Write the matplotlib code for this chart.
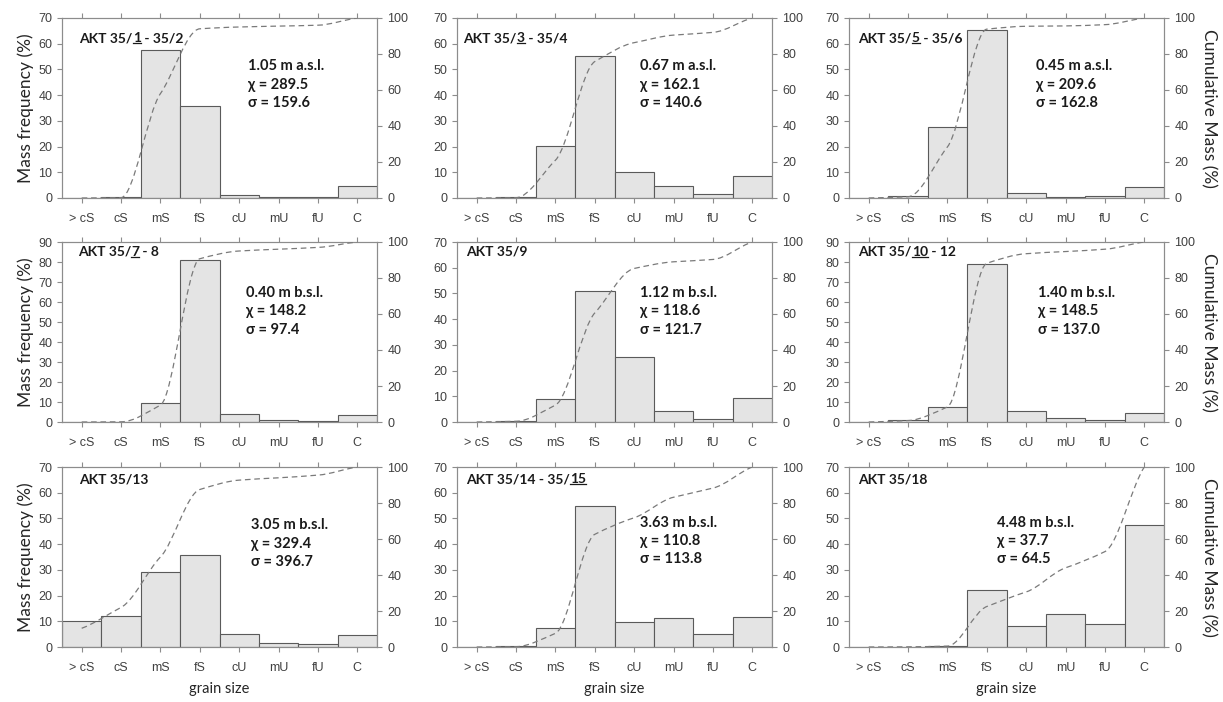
import numpy as np
import matplotlib
matplotlib.use("Agg")
from matplotlib import pyplot as plt
from matplotlib.path import Path
from matplotlib.patches import PathPatch
from matplotlib.lines import Line2D
from matplotlib.ticker import MultipleLocator

# grain size classes
categories = ['> cS', 'cS', 'mS', 'fS', 'cU', 'mU', 'fU', 'C']

# panel titles: (plain, underlined, plain)
titles = [
    ('AKT 35/', '1', ' - 35/2'),
    ('AKT 35/', '3', ' - 35/4'),
    ('AKT 35/', '5', ' - 35/6'),
    ('AKT 35/', '7', ' - 8'),
    ('AKT 35/9', '', ''),
    ('AKT 35/', '10', ' - 12'),
    ('AKT 35/13', '', ''),
    ('AKT 35/14 - 35/', '15', ''),
    ('AKT 35/18', '', ''),
]

depths = ['1.05 m a.s.l.', '0.67 m a.s.l.', '0.45 m a.s.l.',
          '0.40 m b.s.l.', '1.12 m b.s.l.', '1.40 m b.s.l.',
          '3.05 m b.s.l.', '3.63 m b.s.l.', '4.48 m b.s.l.']
chi = ['289.5', '162.1', '209.6', '148.2', '118.6', '148.5', '329.4', '110.8', '37.7']
sigma = ['159.6', '140.6', '162.8', '97.4', '121.7', '137.0', '396.7', '113.8', '64.5']

# mass frequency (%) per class
freq_1 = [0, 0.2, 57.7, 35.6, 1.3, 0.3, 0.5, 4.7]
freq_2 = [0, 0.2, 20.2, 55.3, 10.2, 4.7, 1.5, 8.5]
freq_3 = [0, 0.7, 27.7, 65.2, 1.8, 0.2, 0.6, 4.3]
freq_4 = [0, 0.1, 9.3, 81.2, 4.1, 1.2, 0.7, 3.6]
freq_5 = [0, 0.4, 8.9, 51.0, 25.1, 4.2, 1.1, 9.4]
freq_6 = [0, 0.8, 7.6, 79.2, 5.6, 1.9, 0.8, 4.3]
freq_7 = [10.2, 12.1, 29.2, 35.6, 5.1, 1.7, 1.3, 4.7]
freq_8 = [0, 0.2, 7.5, 54.8, 9.7, 11.3, 5.2, 11.5]
freq_9 = [0, 0.1, 0.4, 22.0, 8.3, 13.0, 8.8, 47.4]

# cumulative mass (%)
cum_1 = [0, 0.2, 58.0, 94.0, 95.0, 95.5, 96.0, 100]
cum_2 = [0, 0.2, 21.0, 75.8, 86.3, 90.5, 92.0, 100]
cum_3 = [0, 0.7, 28.4, 93.8, 95.4, 95.6, 96.3, 100]
cum_4 = [0, 0.1, 9.4, 90.7, 95.0, 96.0, 97.0, 100]
cum_5 = [0, 0.4, 9.4, 60.6, 85.3, 89.0, 90.3, 100]
cum_6 = [0, 0.8, 8.4, 88.2, 93.5, 94.7, 96.0, 100]
cum_7 = [10.4, 22.0, 50.0, 87.5, 92.7, 94.0, 95.5, 100]
cum_8 = [0, 0.2, 7.6, 62.6, 71.8, 83.2, 88.3, 100]
cum_9 = [0, 0.1, 0.5, 22.5, 30.6, 44.0, 53.0, 100]

freqs = [freq_1, freq_2, freq_3, freq_4, freq_5, freq_6, freq_7, freq_8, freq_9]
cums = [cum_1, cum_2, cum_3, cum_4, cum_5, cum_6, cum_7, cum_8, cum_9]
ymax = [70, 70, 70, 90, 70, 90, 70, 70, 70]

# placement of texts inside the panels (axes fraction)
title_xy = [(0.055, 0.92), (0.02, 0.92), (0.03, 0.92),
            (0.05, 0.98), (0.03, 0.98), (0.03, 0.98),
            (0.055, 0.965), (0.03, 0.965), (0.03, 0.965)]
stats_xy = [(0.59, 0.77), (0.58, 0.77), (0.595, 0.77),
            (0.585, 0.755), (0.58, 0.755), (0.6, 0.755),
            (0.6, 0.715), (0.58, 0.73), (0.47, 0.73)]

W, H = 1223, 702
col_left = [62, 457, 849]
row_top = [18, 242, 467]
ax_w, ax_h = 315, 180

tick_font = 'Liberation Sans'
text_font = ['Lato', 'DejaVu Sans']
axis_col = '#8c8c8c'
label_col = '#404040'


def smooth_path(x, y, tension=0.7):
    """Monotone cubic Bezier path through the points (no overshoot)."""
    x = np.asarray(x, float)
    y = np.asarray(y, float)
    n = len(x)
    h = np.diff(x)
    d = np.diff(y) / h
    m = np.zeros(n)
    m[0], m[-1] = d[0], d[-1]
    for i in range(1, n - 1):
        if d[i - 1] * d[i] <= 0:
            m[i] = 0.0
        else:
            w1 = 2 * h[i] + h[i - 1]
            w2 = h[i] + 2 * h[i - 1]
            m[i] = (w1 + w2) / (w1 / d[i - 1] + w2 / d[i])
    m = m * tension
    verts = [(x[0], y[0])]
    codes = [Path.MOVETO]
    for i in range(n - 1):
        verts += [(x[i] + h[i] / 3, y[i] + m[i] * h[i] / 3),
                  (x[i + 1] - h[i] / 3, y[i + 1] - m[i + 1] * h[i] / 3),
                  (x[i + 1], y[i + 1])]
        codes += [Path.CURVE4] * 3
    return Path(verts, codes)


fig = plt.figure(figsize=(W / 100, H / 100), dpi=100)
xpos = np.arange(len(categories))
underlines = []

for k in range(9):
    r, c = divmod(k, 3)
    rect = [col_left[c] / W, 1 - (row_top[r] + ax_h) / H, ax_w / W, ax_h / H]
    ax = fig.add_axes(rect)
    ax2 = ax.twinx()

    ax.bar(xpos, freqs[k], width=1.0, color='#e4e4e4', edgecolor='#5a5a5a',
           linewidth=0.8, zorder=2)
    ax.set_xlim(-0.5, len(categories) - 0.5)
    ax.set_ylim(0, ymax[k])
    ax.yaxis.set_major_locator(MultipleLocator(10))
    ax.yaxis.set_minor_locator(MultipleLocator(20))
    ax.grid(True, which='minor', axis='y', color='#efefef', linewidth=0.8, zorder=0)
    ax.set_axisbelow(True)
    ax.set_xticks(xpos)
    ax.set_xticklabels(categories)

    ax2.set_ylim(0, 100)
    ax2.set_yticks(np.arange(0, 101, 20))
    patch = PathPatch(smooth_path(xpos, cums[k]), fill=False, edgecolor='#7a7a7a',
                      linewidth=0.9, linestyle=(0, (4.5, 3)), zorder=3)
    ax2.add_patch(patch)

    for a in (ax, ax2):
        for s in a.spines.values():
            s.set_color(axis_col)
            s.set_linewidth(0.8)
        a.tick_params(colors=axis_col, labelcolor=label_col, labelsize=9,
                      length=3.5, width=0.8)
        for lab in a.get_yticklabels() + a.get_xticklabels():
            lab.set_fontfamily(tick_font)
    ax.tick_params(axis='x', which='major', top=True, direction='out', pad=7)
    ax.tick_params(axis='y', which='minor', length=0)
    ax2.tick_params(axis='y', pad=4)

    if c == 0:
        ax.set_ylabel('Mass frequency (%)', family=text_font, fontsize=12.5,
                      color='#262626', labelpad=3)
    if c == 2:
        ax2.set_ylabel('Cumulative Mass (%)', family=text_font, fontsize=12.5,
                       color='#262626', rotation=270, labelpad=15)
    if r == 2:
        ax.set_xlabel('grain size', family=text_font, fontsize=10.5,
                      color='#262626', labelpad=6)

    # title in up to three pieces, the middle one underlined
    pre, mid, post = titles[k]
    tx, ty = title_xy[k]
    tkw = dict(family=text_font, fontsize=10, fontweight='bold', color='#1a1a1a',
               zorder=5)
    t1 = ax2.text(tx, ty, pre, transform=ax2.transAxes, va='top', ha='left', **tkw)
    if mid:
        t2 = ax2.annotate(mid, xy=(1, 0), xycoords=t1, va='bottom', ha='left', **tkw)
        ax2.annotate(post, xy=(1, 0), xycoords=t2, va='bottom', ha='left', **tkw)
        underlines.append(t2)

    sx, sy = stats_xy[k]
    stats = f'{depths[k]}\nχ = {chi[k]}\nσ = {sigma[k]}'
    ax2.text(sx, sy, stats, transform=ax2.transAxes, va='top', ha='left',
             family=text_font, fontsize=10.5, fontweight='bold', color='#1a1a1a',
             linespacing=1.4, zorder=5)

# underline the marked sample numbers
fig.canvas.draw()
renderer = fig.canvas.get_renderer()
for t in underlines:
    bb = t.get_window_extent(renderer)
    y = (bb.y0 + 1.0) / H
    fig.add_artist(Line2D([bb.x0 / W, bb.x1 / W], [y, y], color='#1a1a1a',
                          linewidth=0.9))

fig.savefig('out.png', dpi=100)
